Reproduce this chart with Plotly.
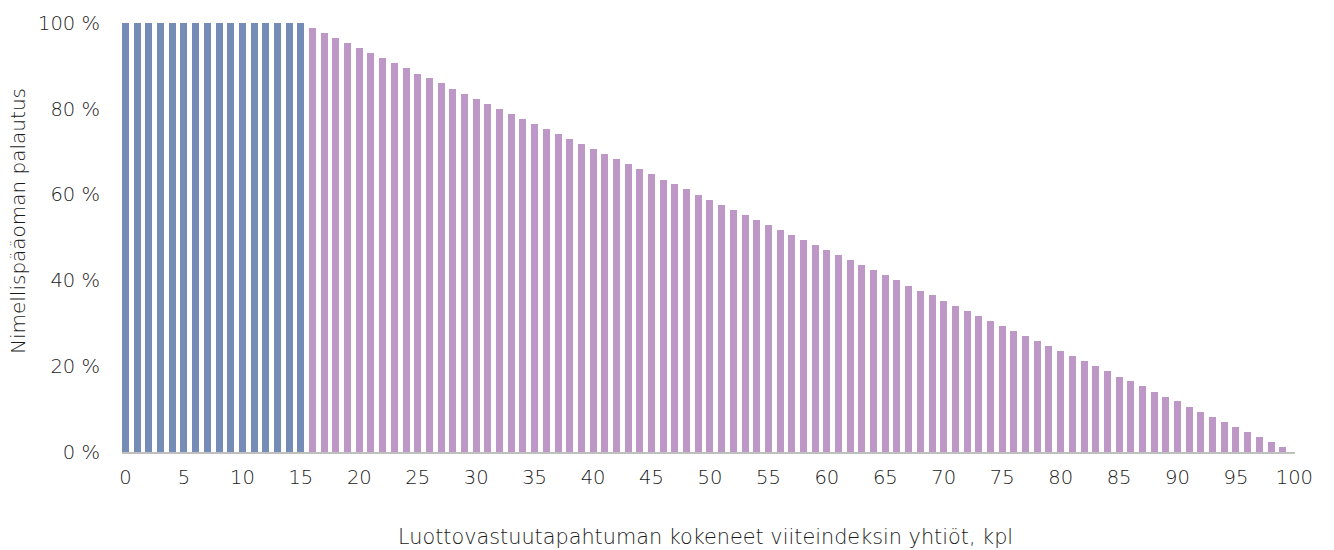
import plotly.graph_objects as go

companies = list(range(0, 101))
# nominal capital return (%) per number of defaulted reference companies
full_return = [100.0] * 16  # 0..15
partial_return = [
    98.8, 97.6, 96.5, 95.3, 94.1, 92.9, 91.8, 90.6, 89.4, 88.2,
    87.1, 85.9, 84.7, 83.5, 82.4, 81.2, 80.0, 78.8, 77.6, 76.5,
    75.3, 74.1, 72.9, 71.8, 70.6, 69.4, 68.2, 67.1, 65.9, 64.7,
    63.5, 62.4, 61.2, 60.0, 58.8, 57.6, 56.5, 55.3, 54.1, 52.9,
    51.8, 50.6, 49.4, 48.2, 47.1, 45.9, 44.7, 43.5, 42.4, 41.2,
    40.0, 38.8, 37.6, 36.5, 35.3, 34.1, 32.9, 31.8, 30.6, 29.4,
    28.2, 27.1, 25.9, 24.7, 23.5, 22.4, 21.2, 20.0, 18.8, 17.6,
    16.5, 15.3, 14.1, 12.9, 11.8, 10.6, 9.4, 8.2, 7.1, 5.9,
    4.7, 3.5, 2.4, 1.2, 0.0,
]  # 16..100
x_ticks = list(range(0, 101, 5))
y_ticks = [0, 20, 40, 60, 80, 100]
y_tick_labels = [f"{v} %" for v in y_ticks]
x_title = "Luottovastuutapahtuman kokeneet viiteindeksin yhtiöt, kpl"
y_title = "Nimellispääoman palautus"

BLUE = "#758DB6"
PURPLE = "#BD97C6"
FONT = "DejaVu Sans"
TXT = "#1a1a1a"
FS = 19.5
FS_XTITLE = 20.8
FS_YTITLE = 20

L, R, T, B = 122, 1295, 23, 452
W, H = 1334, 550

fig = go.Figure()
fig.add_trace(go.Bar(x=companies[:16], y=full_return, marker_color=BLUE,
                     marker_line_width=0, width=0.6, showlegend=False))
fig.add_trace(go.Bar(x=companies[16:], y=partial_return, marker_color=PURPLE,
                     marker_line_width=0, width=0.6, showlegend=False))

fig.update_layout(
    width=W, height=H,
    margin=dict(l=L, r=W - R, t=T, b=H - B, autoexpand=False),
    paper_bgcolor="white", plot_bgcolor="white",
    font=dict(family=FONT, size=FS, color=TXT, weight=200),
    bargap=0,
)
fig.update_xaxes(
    range=[-0.3, 100.05], tickmode="array", tickvals=x_ticks,
    ticktext=[str(v) for v in x_ticks],
    showgrid=False, zeroline=False, automargin=False,
    showline=True, linecolor="#BFBFBF", linewidth=2,
    ticks="", ticklabelstandoff=7,
)
fig.update_yaxes(
    range=[0, 100], tickmode="array", tickvals=y_ticks, ticktext=y_tick_labels,
    showgrid=False, zeroline=False, showline=False, automargin=False,
    ticks="", ticklabelstandoff=21,
)
fig.add_annotation(
    text=x_title, xref="paper", yref="paper",
    x=(705 - L) / (R - L), y=(B - 537) / (B - T),
    xanchor="center", yanchor="middle", showarrow=False,
    font=dict(family=FONT, size=FS_XTITLE, color=TXT, weight=200),
)
fig.add_annotation(
    text=y_title, xref="paper", yref="paper", textangle=-90,
    x=(18 - L) / (R - L), y=(B - 221) / (B - T),
    xanchor="center", yanchor="middle", showarrow=False,
    font=dict(family=FONT, size=FS_YTITLE, color=TXT, weight=200),
)

fig.write_html("out.html", config={"displayModeBar": False},
               post_script="document.body.style.margin='0';document.body.style.overflow='hidden';")
